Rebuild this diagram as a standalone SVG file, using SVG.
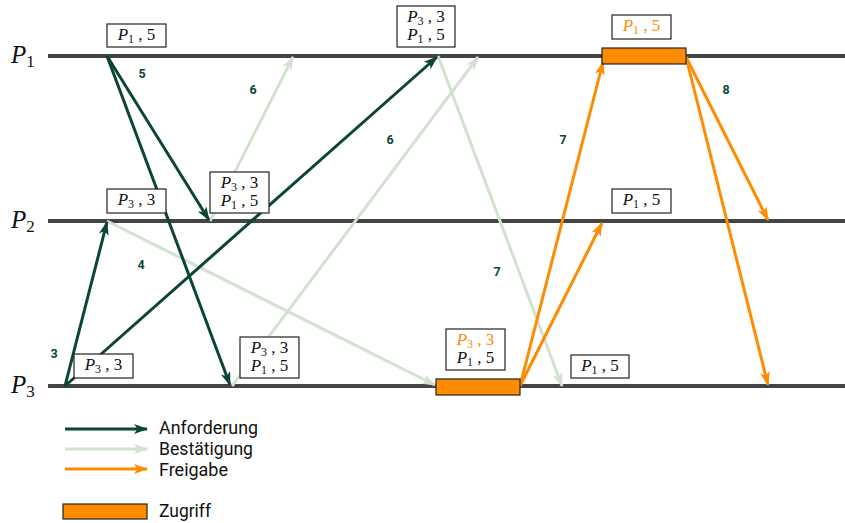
<svg xmlns="http://www.w3.org/2000/svg" width="845" height="523" viewBox="0 0 845 523">
  <defs>
    <style>
      .timeline { stroke: #444444; stroke-width: 4; fill: none; }
      .req { stroke: #0b4536; stroke-width: 3; fill: none; marker-end: url(#head-req); }
      .ack { stroke: #d3e2d0; stroke-width: 3; fill: none; marker-end: url(#head-ack); }
      .rel { stroke: #ff8c00; stroke-width: 3; fill: none; marker-end: url(#head-rel); }
      .bar { fill: #ff8c00; stroke: #222222; stroke-width: 1.2; }
      .box { fill: #ffffff; stroke: #222222; stroke-width: 1.2; }
      .math { font-family: "Liberation Serif", "DejaVu Serif", serif; font-size: 17px; fill: #111111; text-anchor: middle; }
      .math .hl { fill: #ff8c00; }
      .sub { font-size: 12px; }
      .proc { font-family: "Liberation Serif", "DejaVu Serif", serif; font-size: 25px; fill: #111111; }
      .num { font-family: Roboto, "Liberation Sans", sans-serif; font-weight: bold; font-size: 12.5px; fill: #0b4536; text-anchor: middle; }
      .legend { font-family: Roboto, "Liberation Sans", sans-serif; font-size: 18px; fill: #111111; }
    </style>
    <marker id="head-req" markerUnits="userSpaceOnUse" viewBox="0 0 14 10" refX="13" refY="5" markerWidth="14" markerHeight="10" orient="auto">
      <path d="M0,0 L14,5 L0,10 L3.5,5 z" fill="#0b4536"/>
    </marker>
    <marker id="head-ack" markerUnits="userSpaceOnUse" viewBox="0 0 14 10" refX="13" refY="5" markerWidth="14" markerHeight="10" orient="auto">
      <path d="M0,0 L14,5 L0,10 L3.5,5 z" fill="#d3e2d0"/>
    </marker>
    <marker id="head-rel" markerUnits="userSpaceOnUse" viewBox="0 0 14 10" refX="13" refY="5" markerWidth="14" markerHeight="10" orient="auto">
      <path d="M0,0 L14,5 L0,10 L3.5,5 z" fill="#ff8c00"/>
    </marker>
  </defs>

  <rect width="845" height="523" fill="#ffffff"/>

  <!-- process time lines -->
  <g id="P1">
    <line class="timeline" x1="48" y1="56" x2="845" y2="56"/>
    <text class="proc" x="11" y="63"><tspan font-style="italic">P</tspan><tspan font-size="17" dy="4">1</tspan></text>
  </g>
  <g id="P2">
    <line class="timeline" x1="48" y1="221" x2="845" y2="221"/>
    <text class="proc" x="11" y="228"><tspan font-style="italic">P</tspan><tspan font-size="17" dy="4">2</tspan></text>
  </g>
  <g id="P3">
    <line class="timeline" x1="48" y1="386" x2="845" y2="386"/>
    <text class="proc" x="11" y="393"><tspan font-style="italic">P</tspan><tspan font-size="17" dy="4">3</tspan></text>
  </g>

  <!-- messages -->
  <g id="connectors">
    <!-- acknowledgements -->
    <line class="ack" x1="210" y1="221" x2="293" y2="57"/>
    <line class="ack" x1="107" y1="221" x2="435" y2="385"/>
    <line class="ack" x1="232" y1="386" x2="478" y2="57"/>
    <line class="ack" x1="438" y1="56" x2="562" y2="386"/>
    <!-- requests -->
    <line class="req" x1="107" y1="56" x2="209" y2="220"/>
    <line class="req" x1="107" y1="56" x2="230" y2="385"/>
    <line class="req" x1="65" y1="386" x2="107" y2="222"/>
    <line class="req" x1="65" y1="386" x2="437" y2="57"/>
    <!-- releases -->
    <line class="rel" x1="520" y1="386" x2="603" y2="62"/>
    <line class="rel" x1="520" y1="386" x2="602" y2="223"/>
    <line class="rel" x1="686" y1="57" x2="768" y2="220"/>
    <line class="rel" x1="686" y1="57" x2="768" y2="385"/>
    <!-- step numbers -->
    <text class="num" x="54" y="358">3</text>
    <text class="num" x="141" y="269">4</text>
    <text class="num" x="142" y="78">5</text>
    <text class="num" x="253" y="94">6</text>
    <text class="num" x="390" y="144">6</text>
    <text class="num" x="497" y="276">7</text>
    <text class="num" x="563" y="144">7</text>
    <text class="num" x="726" y="94">8</text>
  </g>

  <!-- critical sections -->
  <g id="access-P3"><rect class="bar" x="436" y="379" width="84" height="16"/></g>
  <g id="access-P1"><rect class="bar" x="602" y="48" width="84" height="16"/></g>

  <!-- request queues -->
  <g id="q-P1-a">
    <rect class="box" x="107" y="24" width="59" height="23"/>
    <text class="math" x="136.5" y="40"><tspan font-style="italic">P</tspan><tspan class="sub" dy="3">1</tspan><tspan dy="-3"> , 5</tspan></text>
  </g>
  <g id="q-P1-b">
    <rect class="box" x="397" y="6" width="58" height="41"/>
    <text class="math" x="426" y="22"><tspan font-style="italic">P</tspan><tspan class="sub" dy="3">3</tspan><tspan dy="-3"> , 3</tspan></text>
    <text class="math" x="426" y="40"><tspan font-style="italic">P</tspan><tspan class="sub" dy="3">1</tspan><tspan dy="-3"> , 5</tspan></text>
  </g>
  <g id="q-P1-c">
    <rect class="box" x="612" y="15" width="59" height="24"/>
    <text class="math" x="641.5" y="31"><tspan class="hl" font-style="italic">P</tspan><tspan class="hl sub" dy="3">1</tspan><tspan class="hl" dy="-3"> , 5</tspan></text>
  </g>
  <g id="q-P2-a">
    <rect class="box" x="107" y="189" width="59" height="24"/>
    <text class="math" x="136.5" y="205"><tspan font-style="italic">P</tspan><tspan class="sub" dy="3">3</tspan><tspan dy="-3"> , 3</tspan></text>
  </g>
  <g id="q-P2-b">
    <rect class="box" x="210" y="172" width="59" height="41"/>
    <text class="math" x="239.5" y="188"><tspan font-style="italic">P</tspan><tspan class="sub" dy="3">3</tspan><tspan dy="-3"> , 3</tspan></text>
    <text class="math" x="239.5" y="206"><tspan font-style="italic">P</tspan><tspan class="sub" dy="3">1</tspan><tspan dy="-3"> , 5</tspan></text>
  </g>
  <g id="q-P2-c">
    <rect class="box" x="612" y="189" width="59" height="24"/>
    <text class="math" x="641.5" y="205"><tspan font-style="italic">P</tspan><tspan class="sub" dy="3">1</tspan><tspan dy="-3"> , 5</tspan></text>
  </g>
  <g id="q-P3-a">
    <rect class="box" x="74" y="354" width="59" height="24"/>
    <text class="math" x="103.5" y="370"><tspan font-style="italic">P</tspan><tspan class="sub" dy="3">3</tspan><tspan dy="-3"> , 3</tspan></text>
  </g>
  <g id="q-P3-b">
    <rect class="box" x="240" y="337" width="59" height="41"/>
    <text class="math" x="269.5" y="353"><tspan font-style="italic">P</tspan><tspan class="sub" dy="3">3</tspan><tspan dy="-3"> , 3</tspan></text>
    <text class="math" x="269.5" y="371"><tspan font-style="italic">P</tspan><tspan class="sub" dy="3">1</tspan><tspan dy="-3"> , 5</tspan></text>
  </g>
  <g id="q-P3-c">
    <rect class="box" x="446" y="329" width="59" height="41"/>
    <text class="math" x="475.5" y="345"><tspan class="hl" font-style="italic">P</tspan><tspan class="hl sub" dy="3">3</tspan><tspan class="hl" dy="-3"> , 3</tspan></text>
    <text class="math" x="475.5" y="363"><tspan font-style="italic">P</tspan><tspan class="sub" dy="3">1</tspan><tspan dy="-3"> , 5</tspan></text>
  </g>
  <g id="q-P3-d">
    <rect class="box" x="571" y="355" width="58" height="23"/>
    <text class="math" x="600" y="371"><tspan font-style="italic">P</tspan><tspan class="sub" dy="3">1</tspan><tspan dy="-3"> , 5</tspan></text>
  </g>

  <!-- legend -->
  <g id="legend">
    <line class="req" x1="65" y1="429" x2="147" y2="429"/>
    <line class="ack" x1="65" y1="449" x2="147" y2="449"/>
    <line class="rel" x1="65" y1="469" x2="147" y2="469"/>
    <rect class="bar" x="63" y="504" width="84" height="15"/>
    <text class="legend" x="159" y="434" textLength="99" lengthAdjust="spacingAndGlyphs">Anforderung</text>
    <text class="legend" x="159" y="455" textLength="94" lengthAdjust="spacingAndGlyphs">Bestätigung</text>
    <text class="legend" x="159" y="476" textLength="69" lengthAdjust="spacingAndGlyphs">Freigabe</text>
    <text class="legend" x="159" y="517" textLength="52" lengthAdjust="spacingAndGlyphs">Zugriff</text>
  </g>
</svg>
